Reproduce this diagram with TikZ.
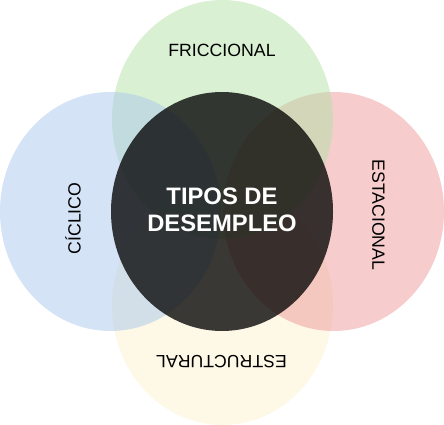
\documentclass[tikz,border=0pt]{standalone}
\usepackage{fontspec}
\setmainfont{Liberation Sans}
\definecolor{cblue}{RGB}{169,199,235}
\definecolor{cgreen}{RGB}{179,225,167}
\definecolor{cred}{RGB}{237,153,153}
\definecolor{cyellow}{RGB}{253,241,205}
\begin{document}
\begin{tikzpicture}[x=1pt,y=1pt,
  petal/.style={fill opacity=0.5},
  lab/.style={inner sep=0pt,anchor=base,text=black,font=\fontsize{17.7}{20}\selectfont},
  title/.style={inner sep=0pt,anchor=base,text=white,font=\fontsize{23.8}{27}\selectfont\bfseries}]
\useasboundingbox (0,0) rectangle (444,425);
\fill[petal,cyellow] (222.5,119.5) ellipse [x radius=110.5,y radius=119.5];
\fill[petal,cred] (333.5,213.5) ellipse [x radius=110.5,y radius=119.5];
\fill[petal,cgreen] (222.5,305.5) ellipse [x radius=110.5,y radius=119.5];
\fill[petal,cblue] (110.5,213.5) ellipse [x radius=110.5,y radius=119.5];
\fill[black,fill opacity=0.77] (222,213.5) ellipse [x radius=111,y radius=119.5];
\node[lab] (fric) at (222,368) {FRICCIONAL};
\node[lab,rotate=90] (cicl) at (80.7,206.5) {CÍCLICO};
\node[lab,rotate=-90] (esta) at (372.3,210) {ESTACIONAL};
\node[lab,rotate=180] (estr) at (221.5,69) {ESTRUCTURAL};
\node[title] (t1) at (222,220) {TIPOS DE};
\node[title] (t2) at (222,193) {DESEMPLEO};
\end{tikzpicture}
\end{document}
